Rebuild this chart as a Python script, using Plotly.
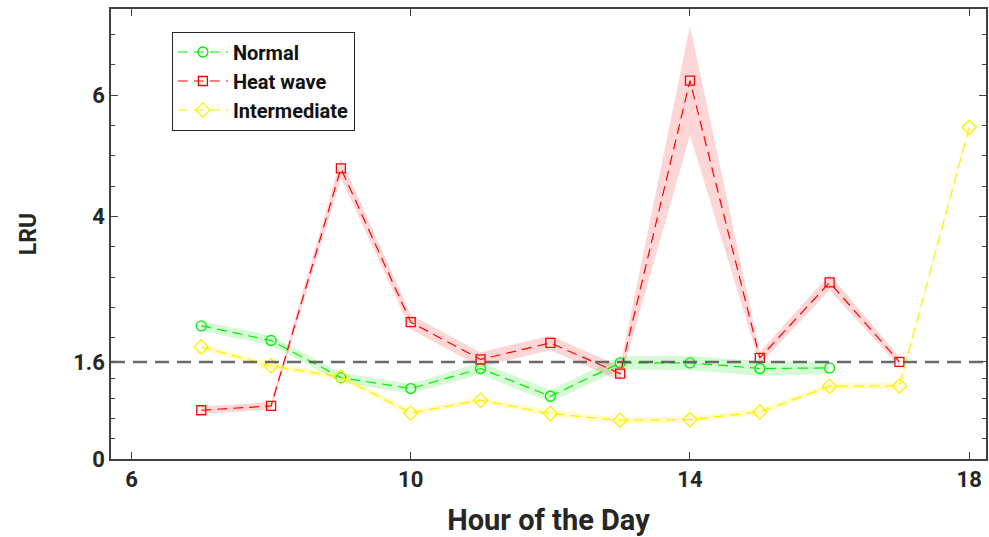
import plotly.graph_objects as go

hours_normal = [7, 8, 9, 10, 11, 12, 13, 14, 15, 16]
lru_normal = [2.195, 1.954, 1.343, 1.162, 1.492, 1.035, 1.584, 1.584, 1.492, 1.502]
err_normal = [0.08, 0.08, 0.08, 0.08, 0.1, 0.1, 0.11, 0.12, 0.12, 0.1]

hours_heat = [7, 8, 9, 10, 11, 12, 13, 14, 15, 16, 17]
lru_heat = [0.804, 0.875, 4.792, 2.256, 1.642, 1.914, 1.409, 6.238, 1.667, 2.911, 1.601]
err_heat = [0.06, 0.06, 0.16, 0.12, 0.12, 0.12, 0.12, 0.9, 0.1, 0.13, 0.08]

hours_inter = [7, 8, 9, 10, 11, 12, 13, 14, 15, 16, 17, 18]
lru_inter = [1.848, 1.535, 1.353, 0.759, 0.969, 0.749, 0.639, 0.650, 0.776, 1.200, 1.205, 5.469]
err_inter = [0.05] * 12

threshold = 1.6
x_ticks = [6, 10, 14, 18]
y_ticks = [0, 1.6, 4, 6]
y_minor = [0.33, 0.67, 1.0, 1.33, 2.0, 2.5, 3.0, 3.5, 4.5, 5.0, 5.5, 6.5, 7.0]

series = [
    ("Normal", hours_normal, lru_normal, err_normal, "#00ee00", "rgba(0,230,0,0.17)", "circle-open", 10),
    ("Heat wave", hours_heat, lru_heat, err_heat, "#ff0000", "rgba(255,0,0,0.16)", "square-open", 9),
    ("Intermediate", hours_inter, lru_inter, err_inter, "#ffee00", "rgba(255,240,0,0.22)", "diamond-open", 11),
]

fig = go.Figure()

for name, xs, ys, es, col, fcol, sym, msz in series:
    upper = [y + e for y, e in zip(ys, es)]
    lower = [y - e for y, e in zip(ys, es)]
    fig.add_trace(go.Scatter(
        x=list(xs) + list(xs)[::-1], y=upper + lower[::-1],
        fill="toself", fillcolor=fcol, line=dict(width=0),
        mode="lines", showlegend=False, hoverinfo="skip"))

for name, xs, ys, es, col, fcol, sym, msz in series:
    fig.add_trace(go.Scatter(
        x=xs, y=ys, name=name, mode="lines+markers",
        line=dict(color=col, width=1.2, dash="10px,6px"),
        marker=dict(symbol=sym, size=msz, color=col, line=dict(width=1.3, color=col))))

fig.add_shape(type="line", xref="paper", x0=0, x1=1, yref="y", y0=threshold, y1=threshold,
              line=dict(color="rgba(90,90,90,0.9)", width=2.5, dash="14px,8px"), layer="above")

axis_font = dict(family="Roboto", size=22, color="#262626", weight="bold")

fig.update_xaxes(
    range=[5.707, 18.24], tickvals=x_ticks, ticktext=[str(v) for v in x_ticks],
    ticks="inside", ticklen=7, tickwidth=1.2, tickcolor="#404040",
    showline=True, linecolor="#404040", linewidth=1.5, mirror="ticks",
    showgrid=False, zeroline=False, tickfont=axis_font,
    title=dict(text="Hour of the Day", font=dict(family="Roboto", size=29, color="#262626", weight="bold"), standoff=19),
)
fig.update_yaxes(
    range=[0, 7.42], tickvals=y_ticks, ticktext=["0", "1.6", "4", "6"],
    ticks="inside", ticklen=7, tickwidth=1.2, tickcolor="#404040",
    minor=dict(tickmode="array", tickvals=y_minor, ticks="inside", ticklen=4, tickcolor="#404040", tickwidth=1),
    showline=True, linecolor="#404040", linewidth=1.5, mirror="ticks",
    showgrid=False, zeroline=False, tickfont=axis_font,
    title=dict(text="LRU", font=dict(family="Roboto", size=23, color="#262626", weight="bold"), standoff=30),
)

fig.update_layout(
    width=989, height=537,
    margin=dict(l=111, r=1, t=9, b=78),
    plot_bgcolor="white", paper_bgcolor="white",
    legend=dict(
        x=0.0696, y=0.95, xanchor="left", yanchor="top",
        bgcolor="white", bordercolor="#262626", borderwidth=1,
        font=dict(family="Roboto", size=20, color="#111111", weight="bold"),
        itemwidth=50, tracegroupgap=0,
    ),
)

fig.write_html("out.html")
